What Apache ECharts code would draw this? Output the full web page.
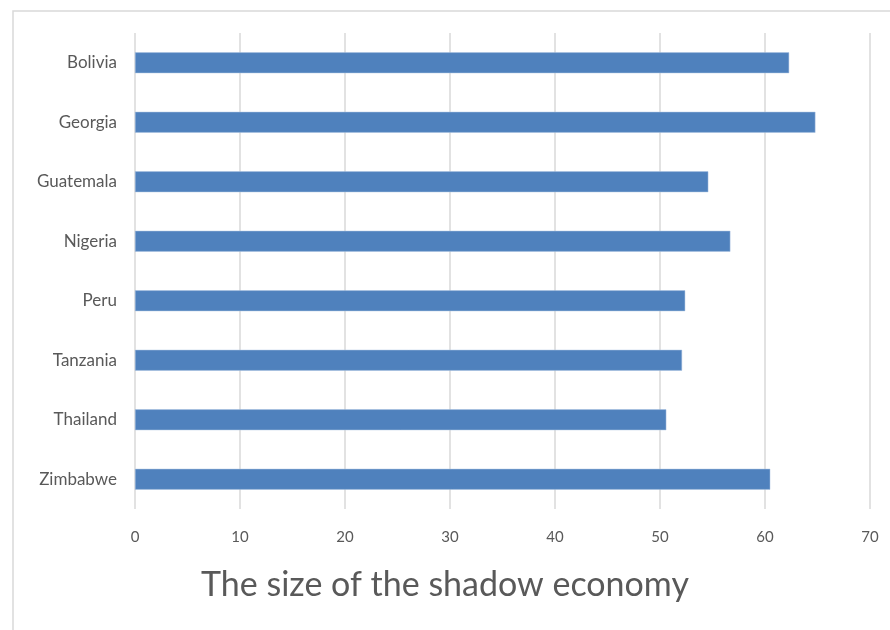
<!DOCTYPE html>
<html>
<head>
<meta charset="utf-8">
<script src="https://cdn.jsdelivr.net/npm/echarts@6/dist/echarts.min.js"></script>
<style>
html,body{margin:0;padding:0;background:#fff;}
#chart{width:890px;height:630px;}
</style>
</head>
<body>
<div id="chart"></div>
<script>
const categories = ["Bolivia", "Georgia", "Guatemala", "Nigeria", "Peru", "Tanzania", "Thailand", "Zimbabwe"];
const shadowEconomy = [62.3, 64.8, 54.6, 56.7, 52.4, 52.1, 50.6, 60.5];
const titleText = "The size of the shadow economy";

const chart = echarts.init(document.getElementById('chart'), null, {renderer: 'canvas'});
const FONT = 'Lato, "Open Sans", sans-serif';
chart.setOption({
  animation: false,
  backgroundColor: '#ffffff',
  graphic: [{
    type: 'rect',
    shape: {x: 13, y: 11, width: 1000, height: 1000},
    style: {fill: 'none', stroke: '#d9d9d9', lineWidth: 1.5},
    silent: true
  }],
  title: {
    text: titleText,
    left: 'center',
    top: 563,
    textStyle: {fontFamily: FONT, fontSize: 34, fontWeight: 'normal', color: '#595959'}
  },
  grid: {left: 135, right: 20, top: 33, bottom: 121, containLabel: false},
  xAxis: {
    type: 'value',
    min: 0, max: 70, interval: 10,
    axisLine: {show: false},
    axisTick: {show: false},
    splitLine: {show: true, lineStyle: {color: '#d9d9d9', width: 1.5}},
    axisLabel: {fontFamily: FONT, fontSize: 15, color: '#595959', margin: 21}
  },
  yAxis: {
    type: 'category',
    data: categories,
    inverse: true,
    axisLine: {show: false},
    axisTick: {show: false},
    axisLabel: {fontFamily: FONT, fontSize: 17, color: '#595959', margin: 18}
  },
  series: [{
    type: 'bar',
    data: shadowEconomy,
    barWidth: '35%',
    itemStyle: {color: '#4f81bd', borderColor: '#a9c1e0', borderWidth: 0.5}
  }]
});
</script>
</body>
</html>
